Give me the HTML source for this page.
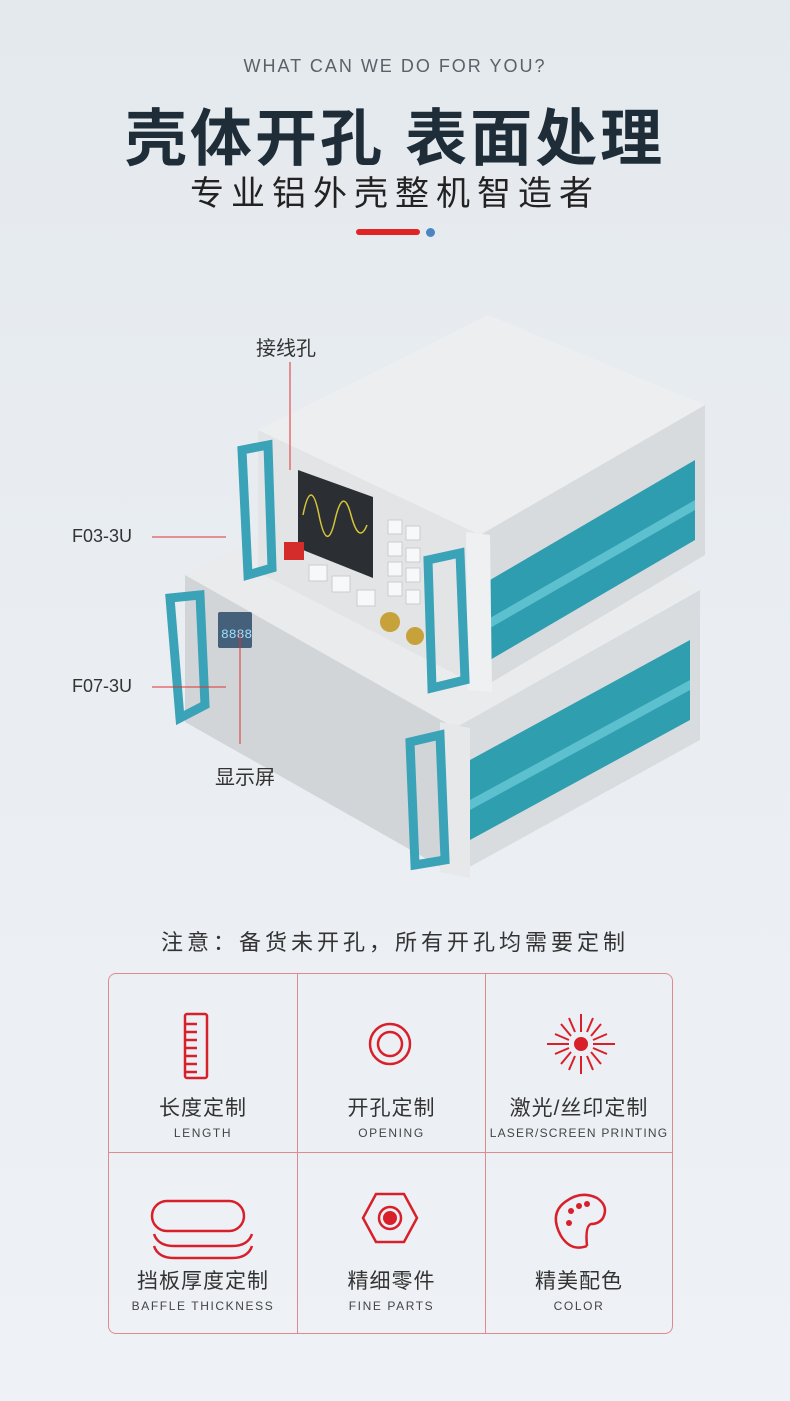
<!DOCTYPE html>
<html><head><meta charset="utf-8"><style>
body{margin:0;width:790px;height:1401px;overflow:hidden;background:linear-gradient(180deg,#e4e9ee 0%,#eaeef2 50%,#eef1f5 100%);font-family:"Liberation Sans","Noto Sans CJK SC",sans-serif;position:relative}
.a{position:absolute;white-space:nowrap}
.grid{position:absolute;left:108px;top:973px;width:565px;height:361px;border:1px solid #e08a8e;border-radius:8px;box-sizing:border-box}
.cell{position:absolute;text-align:center}
.cn{font-size:21px;color:#333;letter-spacing:1px}
.en{font-size:12px;color:#444;letter-spacing:1.6px;margin-top:4px}
</style></head><body>
<div class="a" style="left:0;width:790px;top:56px;text-align:center;font-size:18px;letter-spacing:2px;color:#5a6168">WHAT CAN WE DO FOR YOU?</div>
<div class="a" style="left:0;width:790px;top:88px;text-align:center;font-size:62px;font-weight:bold;color:#1e2d38;letter-spacing:3px">壳体开孔 表面处理</div>
<div class="a" style="left:0;width:790px;top:166px;text-align:center;font-size:34px;color:#222;letter-spacing:7px">专业铝外壳整机智造者</div>
<div class="a" style="left:356px;top:229px;width:64px;height:6px;background:#e02424;border-radius:3px"></div>
<div class="a" style="left:426px;top:228px;width:9px;height:9px;background:#4a86c4;border-radius:50%"></div>

<svg class="a" style="left:0;top:0" width="790" height="900">
<polygon points="185,575 420,452 700,588 455,728" fill="#e9ebed"/>
<polygon points="455,728 700,590 700,740 455,875" fill="#d8dcdf"/>
<polygon points="470,760 690,640 690,720 470,840" fill="#2f9fb0"/>
<polygon points="470,800 690,680 690,690 470,810" fill="#5cc0cf"/>
<polygon points="185,575 455,728 455,875 185,722" fill="#d2d5d8"/>
<polygon points="440,722 470,728 470,878 440,872" fill="#e6e8ea"/>
<rect x="218" y="612" width="34" height="36" fill="#44607a" rx="2"/>
<text x="221" y="638" font-size="13" fill="#9fe0ff" font-family="Liberation Mono">8888</text>
<path d="M170,598 L200,595 L205,705 L180,718 Z" fill="none" stroke="#3aa3b8" stroke-width="9"/>
<path d="M410,742 L440,735 L445,860 L415,865 Z" fill="none" stroke="#3aa3b8" stroke-width="9"/>
<polygon points="258,430 488,315 705,405 480,535" fill="#eceef0"/>
<polygon points="480,535 705,405 705,555 482,688" fill="#d8dbde"/>
<polygon points="490,580 695,460 695,540 490,660" fill="#2e9db0"/>
<polygon points="490,618 695,500 695,510 490,628" fill="#5cc0cf"/>
<polygon points="258,430 480,535 482,688 258,572" fill="#e2e4e6"/>
<polygon points="466,532 490,535 492,692 468,690" fill="#eef0f1"/>
<polygon points="298,470 373,497 373,578 298,548" fill="#2b2f33"/>
<path d="M303,515 q8,-40 16,0 t16,5 t16,-5 t16,10" fill="none" stroke="#d6c43a" stroke-width="1.5"/>
<rect x="284" y="542" width="20" height="18" fill="#d42b2b"/>
<g fill="#f7f8f9" stroke="#ccc"><rect x="309" y="565" width="18" height="16"/><rect x="332" y="576" width="18" height="16"/><rect x="357" y="590" width="18" height="16"/>
<rect x="388" y="520" width="14" height="14"/><rect x="406" y="526" width="14" height="14"/><rect x="388" y="542" width="14" height="14"/><rect x="406" y="548" width="14" height="14"/><rect x="388" y="562" width="14" height="14"/><rect x="406" y="568" width="14" height="14"/><rect x="388" y="582" width="14" height="14"/><rect x="406" y="590" width="14" height="14"/></g>
<circle cx="390" cy="622" r="10" fill="#c7a23a"/><circle cx="415" cy="636" r="9" fill="#c7a23a"/>
<path d="M242,450 L268,445 L272,568 L248,575 Z" fill="none" stroke="#3aa3b8" stroke-width="9"/>
<path d="M428,560 L460,553 L465,680 L432,688 Z" fill="none" stroke="#3aa3b8" stroke-width="9"/>
<line x1="290" y1="362" x2="290" y2="470" stroke="#d33" stroke-width="1"/>
<line x1="152" y1="537" x2="226" y2="537" stroke="#d33" stroke-width="1"/>
<line x1="152" y1="687" x2="226" y2="687" stroke="#d33" stroke-width="1"/>
<line x1="240" y1="632" x2="240" y2="744" stroke="#d33" stroke-width="1"/>
</svg>
<div class="a" style="left:256px;top:332px;font-size:20px;color:#333">接线孔</div>
<div class="a" style="left:72px;top:526px;font-size:18px;color:#333">F03-3U</div>
<div class="a" style="left:72px;top:676px;font-size:18px;color:#333">F07-3U</div>
<div class="a" style="left:215px;top:761px;font-size:20px;color:#333">显示屏</div>
<div class="a" style="left:0;width:790px;top:925px;text-align:center;font-size:22px;color:#333;letter-spacing:4px">注意：备货未开孔，所有开孔均需要定制</div>

<div class="grid">
<div class="a" style="left:188px;top:0;width:1px;height:359px;background:#e08a8e"></div>
<div class="a" style="left:376px;top:0;width:1px;height:359px;background:#e08a8e"></div>
<div class="a" style="left:0;top:178px;width:563px;height:1px;background:#e08a8e"></div>
<svg class="a" style="left:0;top:0" width="563" height="359" fill="none" stroke="#d8202a" stroke-width="2.5">
<rect x="76" y="40" width="22" height="64" rx="2"/>
<path d="M76,50h12M76,58h12M76,66h12M76,74h12M76,82h12M76,90h12M76,98h12"/>
<circle cx="281" cy="70" r="20"/><circle cx="281" cy="70" r="12"/>
<circle cx="472" cy="70" r="7" fill="#d8202a" stroke="none"/>
<g stroke-width="2"><path d="M472,40v18M472,82v18M438,70h22M484,70h22M452,50l10,12M482,78l10,12M492,50l-10,12M462,78l-10,12M460,44l6,14M478,82l6,14M484,44l-6,14M466,82l-6,14M446,60l14,6M484,74l14,6M446,80l14,-6M484,66l14,-6"/></g>
<rect x="43" y="227" width="92" height="30" rx="15"/>
<path d="M45,260 q4,12 20,12 h58 q16,0 20,-12"/><path d="M45,272 q4,12 20,12 h58 q16,0 20,-12"/>
<polygon points="267,220 295,220 308,244 295,268 267,268 254,244"/>
<circle cx="281" cy="244" r="11"/><circle cx="281" cy="244" r="7" fill="#d8202a" stroke="none"/>
<path d="M478,272 q-16,6 -26,-10 q-12,-22 4,-34 q16,-12 32,-4 q12,8 6,20 q-4,6 -12,6 q-6,2 -4,22"/>
<g fill="#d8202a" stroke="none"><circle cx="462" cy="237" r="3"/><circle cx="470" cy="232" r="3"/><circle cx="478" cy="230" r="3"/><circle cx="460" cy="249" r="3"/></g>
</svg>
<div class="cell" style="left:0;width:188px;top:118px"><div class="cn">长度定制</div><div class="en">LENGTH</div></div>
<div class="cell" style="left:189px;width:187px;top:118px"><div class="cn">开孔定制</div><div class="en">OPENING</div></div>
<div class="cell" style="left:377px;width:186px;top:118px"><div class="cn">激光/丝印定制</div><div class="en" style="letter-spacing:1.2px">LASER/SCREEN PRINTING</div></div>
<div class="cell" style="left:0;width:188px;top:291px"><div class="cn">挡板厚度定制</div><div class="en">BAFFLE THICKNESS</div></div>
<div class="cell" style="left:189px;width:187px;top:291px"><div class="cn">精细零件</div><div class="en">FINE PARTS</div></div>
<div class="cell" style="left:377px;width:186px;top:291px"><div class="cn">精美配色</div><div class="en">COLOR</div></div>
</div>
</body></html>
